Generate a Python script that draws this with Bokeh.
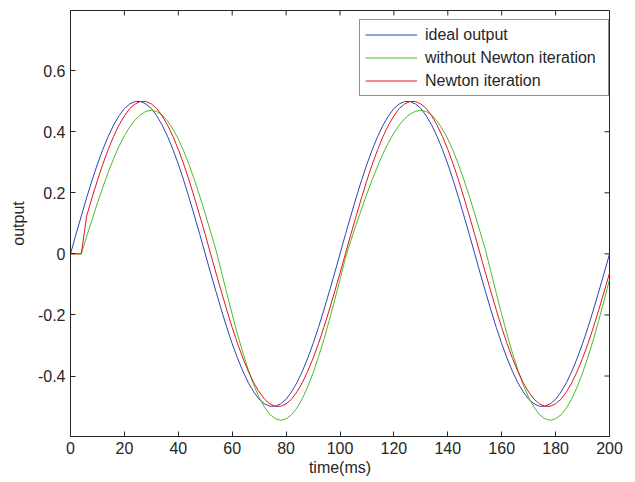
import math
from bokeh.plotting import figure
from bokeh.models import FixedTicker, Legend, LegendItem, Range1d
from bokeh.embed import file_html
from bokeh.resources import INLINE

# time in ms, sampled every 2 ms
time_ms = list(range(0, 201, 2))

ideal_output = [
    0.0, 0.063, 0.124, 0.184, 0.241, 0.294, 0.342, 0.385, 0.422, 0.452, 0.476, 0.491, 0.499,
    0.499, 0.491, 0.476, 0.452, 0.422, 0.385, 0.342, 0.294, 0.241, 0.184, 0.124, 0.063,
    0.0, -0.063, -0.124, -0.184, -0.241, -0.294, -0.342, -0.385, -0.422, -0.452, -0.476, -0.491, -0.499,
    -0.499, -0.491, -0.476, -0.452, -0.422, -0.385, -0.342, -0.294, -0.241, -0.184, -0.124, -0.063,
    0.0, 0.063, 0.124, 0.184, 0.241, 0.294, 0.342, 0.385, 0.422, 0.452, 0.476, 0.491, 0.499,
    0.499, 0.491, 0.476, 0.452, 0.422, 0.385, 0.342, 0.294, 0.241, 0.184, 0.124, 0.063,
    0.0, -0.063, -0.124, -0.184, -0.241, -0.294, -0.342, -0.385, -0.422, -0.452, -0.476, -0.491, -0.499,
    -0.499, -0.491, -0.476, -0.452, -0.422, -0.385, -0.342, -0.294, -0.241, -0.184, -0.124, -0.063,
    0.0,
]

without_newton = [
    0.0, 0.0, 0.0, 0.057, 0.112, 0.167, 0.218, 0.267, 0.312, 0.352,
    0.387, 0.416, 0.439, 0.456, 0.467, 0.470, 0.466, 0.455, 0.435, 0.409,
    0.376, 0.337, 0.292, 0.242, 0.188, 0.131, 0.072, 0.012, -0.058, -0.129,
    -0.198, -0.264, -0.325, -0.380, -0.429, -0.470, -0.502, -0.526, -0.540, -0.545,
    -0.540, -0.527, -0.505, -0.474, -0.436, -0.390, -0.338, -0.281, -0.218, -0.152,
    -0.084, -0.014, 0.043, 0.096, 0.147, 0.197, 0.244, 0.288, 0.329, 0.365,
    0.396, 0.422, 0.443, 0.458, 0.467, 0.470, 0.466, 0.455, 0.435, 0.409,
    0.376, 0.337, 0.292, 0.242, 0.188, 0.131, 0.072, 0.012, -0.058, -0.129,
    -0.198, -0.264, -0.325, -0.380, -0.429, -0.470, -0.502, -0.526, -0.540, -0.545,
    -0.540, -0.527, -0.505, -0.474, -0.436, -0.390, -0.338, -0.281, -0.218, -0.152,
    -0.084,
]

newton_iteration = [
    0.0, 0.0, 0.0, 0.124, 0.184, 0.241, 0.294, 0.342, 0.385, 0.422, 0.452, 0.476, 0.491,
    0.499, 0.499, 0.491, 0.476, 0.452, 0.422, 0.385, 0.342, 0.294, 0.241, 0.184, 0.124, 0.063,
    0.0, -0.063, -0.124, -0.184, -0.241, -0.294, -0.342, -0.385, -0.422, -0.452, -0.476, -0.491,
    -0.499, -0.499, -0.491, -0.476, -0.452, -0.422, -0.385, -0.342, -0.294, -0.241, -0.184, -0.124, -0.063,
    0.0, 0.063, 0.124, 0.184, 0.241, 0.294, 0.342, 0.385, 0.422, 0.452, 0.476, 0.491,
    0.499, 0.499, 0.491, 0.476, 0.452, 0.422, 0.385, 0.342, 0.294, 0.241, 0.184, 0.124, 0.063,
    0.0, -0.063, -0.124, -0.184, -0.241, -0.294, -0.342, -0.385, -0.422, -0.452, -0.476, -0.491,
    -0.499, -0.499, -0.491, -0.476, -0.452, -0.422, -0.385, -0.342, -0.294, -0.241, -0.184, -0.124, -0.063,
]

series_labels = ["ideal output", "without Newton iteration", "Newton iteration"]
x_ticks = [0, 20, 40, 60, 80, 100, 120, 140, 160, 180, 200]
y_ticks = [-0.4, -0.2, 0, 0.2, 0.4, 0.6]
y_tick_labels = ["-0.4", "-0.2", "0", "0.2", "0.4", "0.6"]
x_lim = (0, 200)
y_lim = (-0.598, 0.797)

FONT = "Liberation Sans"
DARK = "#262626"

p = figure(width=635, height=482, output_backend="svg", toolbar_location=None,
           x_range=Range1d(*x_lim), y_range=Range1d(*y_lim),
           min_border_left=70, min_border_right=26, min_border_top=10, min_border_bottom=46)
p.grid.visible = False
p.outline_line_color = DARK
p.background_fill_color = "white"

r1 = p.line(time_ms, ideal_output, line_color="#2b45b0", line_width=1)
r2 = p.line(time_ms, without_newton, line_color="#4cbb2a", line_width=1)
r3 = p.line(time_ms, newton_iteration, line_color="#e8141a", line_width=1)

p.xaxis.ticker = FixedTicker(ticks=x_ticks)
p.yaxis.ticker = FixedTicker(ticks=y_ticks)
p.yaxis.major_label_overrides = dict(zip(y_ticks, y_tick_labels))
for ax in (p.xaxis[0], p.yaxis[0]):
    ax.major_tick_in = 5
    ax.major_tick_out = 0
    ax.minor_tick_line_color = None
    ax.axis_line_color = DARK
    ax.major_tick_line_color = DARK
    ax.major_label_text_font = FONT
    ax.major_label_text_font_size = "16px"
    ax.major_label_text_color = DARK
    ax.axis_label_text_font = FONT
    ax.axis_label_text_font_size = "16px"
    ax.axis_label_text_font_style = "normal"
    ax.axis_label_text_color = DARK
p.xaxis.axis_label = "time(ms)"
p.yaxis.axis_label = "output"
p.xaxis.major_label_standoff = 5
p.xaxis.axis_label_standoff = 2
p.yaxis.major_label_standoff = 5
p.yaxis.axis_label_standoff = 8

# mirrored inward ticks on the top and right edges of the box
p.scatter(x_ticks, [y_lim[1]] * len(x_ticks), marker="dash", angle=math.pi / 2,
          size=10, line_color=DARK, line_width=1)
p.scatter([x_lim[1]] * len(y_ticks), y_ticks, marker="dash", angle=0,
          size=10, line_color=DARK, line_width=1)

leg = Legend(items=[LegendItem(label=series_labels[0], renderers=[r1]),
                    LegendItem(label=series_labels[1], renderers=[r2]),
                    LegendItem(label=series_labels[2], renderers=[r3])],
             location=(289, 340), margin=0, padding=5, spacing=4, label_height=19,
             glyph_width=52, glyph_height=19, label_standoff=8, label_width=178,
             label_text_font=FONT, label_text_font_size="16px", label_text_color=DARK,
             border_line_color=DARK, border_line_width=1, background_fill_alpha=1)
p.add_layout(leg)

open("out.html", "w").write(file_html(p, INLINE))
